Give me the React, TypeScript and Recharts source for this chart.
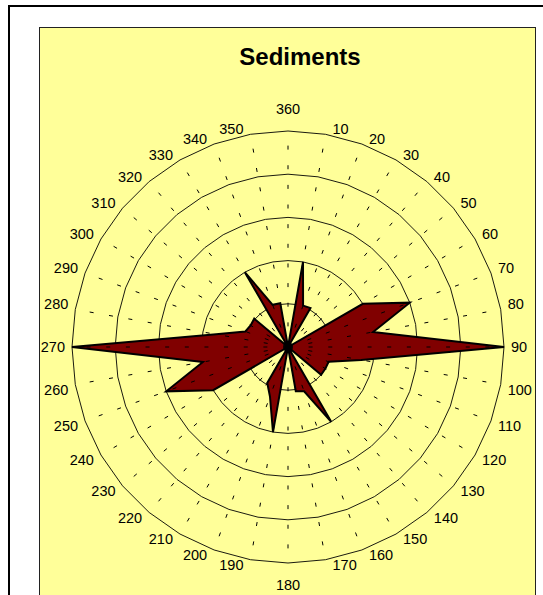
import React from 'react';
import { RadarChart, Radar, PolarGrid, PolarAngleAxis, PolarRadiusAxis } from 'recharts';

// wind-rose style directions, 360 at the top, clockwise
const directions = [
  '360', '10', '20', '30', '40', '50', '60', '70', '80',
  '90', '100', '110', '120', '130', '140', '150', '160', '170',
  '180', '190', '200', '210', '220', '230', '240', '250', '260',
  '270', '280', '290', '300', '310', '320', '330', '340', '350',
];

const frequency = [
  0, 20, 10.2, 10.4, 0, 0, 20, 30, 20,
  50, 17.2, 10, 10, 10, 0, 20, 10.9, 10.4,
  0, 20, 12.2, 9.6, 0, 0, 20, 30, 20,
  50, 16.9, 10.5, 10, 10.2, 0, 20, 10.4, 10.3,
];

const radiusTicks = [0, 10, 20, 30, 40, 50];

const chartData = directions.map((dir, i) => ({ dir, value: frequency[i] }));

const CX = 288;
const CY = 347;
const R = 216;
const FONT = '"Liberation Sans", Arial, sans-serif';
const CAP = 10.4;

const AngleTick = (props: any) => {
  const { payload } = props;
  const a = (payload.coordinate * Math.PI) / 180;
  const cos = Math.cos(a);
  const sin = Math.sin(a);
  const px = CX + R * cos;
  const py = CY - R * sin;
  let x = px;
  let y = py;
  let anchor: 'start' | 'middle' | 'end' = 'middle';
  if (Math.abs(cos) < 0.01) {
    y = sin > 0 ? py - 17 : py + 17 + CAP;
  } else {
    anchor = cos > 0 ? 'start' : 'end';
    x = px + (cos > 0 ? 7 : -7);
    if (Math.abs(sin) < 0.01) y = py + CAP / 2;
    else if (sin > 0) y = py;
    else y = py + CAP;
  }
  return (
    <text x={x} y={y} textAnchor={anchor} fontSize={14.5} fontFamily={FONT} fill="#000">
      {payload.value}
    </text>
  );
};

export default function App() {
  return (
    <div
      style={{
        position: 'absolute',
        left: 0,
        top: 0,
        width: 543,
        height: 595,
        overflow: 'hidden',
        background: '#fff',
      }}
    >
      <div
        style={{
          position: 'absolute',
          left: 8,
          top: 5,
          width: 600,
          height: 650,
          border: '2px solid #000',
          background: '#fff',
        }}
      />
      <div
        style={{
          position: 'absolute',
          left: 39,
          top: 27,
          width: 495,
          height: 650,
          border: '1px solid #222',
          background: '#FFFF99',
        }}
      />
      <div
        style={{
          position: 'absolute',
          left: 200,
          width: 200,
          top: 45,
          textAlign: 'center',
          fontFamily: FONT,
          fontWeight: 'bold',
          fontSize: 24,
          lineHeight: '24px',
          color: '#000',
        }}
      >
        Sediments
      </div>
      <div style={{ position: 'absolute', left: 0, top: 0 }}>
        <RadarChart
          width={543}
          height={595}
          data={chartData}
          cx={CX}
          cy={CY}
          outerRadius={R}
          startAngle={90}
          endAngle={-270}
        >
          <PolarGrid gridType="polygon" radialLines={false} stroke="#000" strokeWidth={0.9} />
          <PolarAngleAxis
            dataKey="dir"
            tick={<AngleTick />}
            tickLine={false}
            axisLine={false}
          />
          <PolarRadiusAxis
            angle={90}
            domain={[0, 50]}
            ticks={radiusTicks as any}
            tickCount={6}
            tick={false}
            axisLine={false}
          />
          <Radar
            dataKey="value"
            fill="#800000"
            fillOpacity={1}
            stroke="#000"
            strokeWidth={2}
            dot={false}
            isAnimationActive={false}
          />
          <PolarGrid
            gridType="polygon"
            polarRadius={[]}
            radialLines
            stroke="#000"
            strokeWidth={1}
            strokeDasharray="4 15.64"
            strokeDashoffset={-1}
            {...({ zIndex: 600 } as any)}
          />
        </RadarChart>
      </div>
    </div>
  );
}
